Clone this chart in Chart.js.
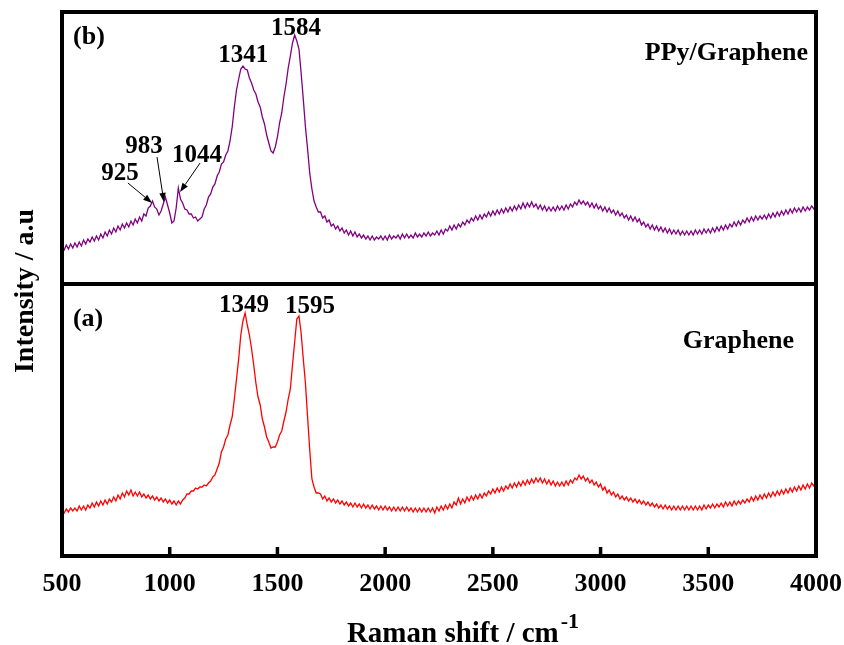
<!DOCTYPE html>
<html><head><meta charset="utf-8">
<script src="https://cdn.jsdelivr.net/npm/chart.js@4.4.1/dist/chart.umd.min.js"></script>
<style>html,body{margin:0;padding:0;background:#fff}#wrap{width:844px;height:645px}</style>
</head><body><div id="wrap"><canvas id="c" width="844" height="645"></canvas></div>
<script>
// Raman shift (cm-1)
const ramanShift = [
 500,510,520,530,540,550,560,570,580,590,
 600,610,620,630,640,650,660,670,680,690,
 700,710,720,730,740,750,760,770,780,790,
 800,810,820,830,840,850,860,870,880,890,
 900,910,920,930,940,950,960,970,980,990,
 1000,1010,1020,1030,1040,1050,1060,1070,1080,1090,
 1100,1110,1120,1130,1140,1150,1160,1170,1180,1190,
 1200,1210,1220,1230,1240,1250,1260,1270,1280,1290,
 1300,1310,1320,1330,1340,1350,1360,1370,1380,1390,
 1400,1410,1420,1430,1440,1450,1460,1470,1480,1490,
 1500,1510,1520,1530,1540,1550,1560,1570,1580,1590,
 1600,1610,1620,1630,1640,1650,1660,1670,1680,1690,
 1700,1710,1720,1730,1740,1750,1760,1770,1780,1790,
 1800,1810,1820,1830,1840,1850,1860,1870,1880,1890,
 1900,1910,1920,1930,1940,1950,1960,1970,1980,1990,
 2000,2010,2020,2030,2040,2050,2060,2070,2080,2090,
 2100,2110,2120,2130,2140,2150,2160,2170,2180,2190,
 2200,2210,2220,2230,2240,2250,2260,2270,2280,2290,
 2300,2310,2320,2330,2340,2350,2360,2370,2380,2390,
 2400,2410,2420,2430,2440,2450,2460,2470,2480,2490,
 2500,2510,2520,2530,2540,2550,2560,2570,2580,2590,
 2600,2610,2620,2630,2640,2650,2660,2670,2680,2690,
 2700,2710,2720,2730,2740,2750,2760,2770,2780,2790,
 2800,2810,2820,2830,2840,2850,2860,2870,2880,2890,
 2900,2910,2920,2930,2940,2950,2960,2970,2980,2990,
 3000,3010,3020,3030,3040,3050,3060,3070,3080,3090,
 3100,3110,3120,3130,3140,3150,3160,3170,3180,3190,
 3200,3210,3220,3230,3240,3250,3260,3270,3280,3290,
 3300,3310,3320,3330,3340,3350,3360,3370,3380,3390,
 3400,3410,3420,3430,3440,3450,3460,3470,3480,3490,
 3500,3510,3520,3530,3540,3550,3560,3570,3580,3590,
 3600,3610,3620,3630,3640,3650,3660,3670,3680,3690,
 3700,3710,3720,3730,3740,3750,3760,3770,3780,3790,
 3800,3810,3820,3830,3840,3850,3860,3870,3880,3890,
 3900,3910,3920,3930,3940,3950,3960,3970,3980,3990,
 4000
];
// (b) PPy/Graphene intensity (a.u.)
const ppyGraphene = [
 37,34,39,35,40,36,41,37,42,38,
 44,40,45,42,47,43,48,44,50,46,
 52,48,54,50,56,52,58,54,60,56,
 61,57,63,59,65,61,67,63,70,68,
 76,78,83,77,75,69,73,80,87,79,
 71,61,63,76,96,85,81,75,74,70,
 70,66,67,63,65,67,75,79,87,90,
 97,100,108,112,120,122,129,133,143,157,
 177,194,205,215,218,215,214,206,201,194,
 190,182,177,167,160,149,141,133,131,137,
 147,161,171,187,200,216,228,241,249,243,
 235,211,185,157,135,111,95,83,77,72,
 72,66,68,62,64,58,60,55,58,53,
 56,51,54,49,53,48,52,47,50,46,
 49,45,48,44,48,44,47,45,48,44,
 48,44,49,45,48,46,49,45,50,46,
 50,46,49,46,51,47,50,47,51,48,
 52,48,51,49,53,49,54,50,55,53,
 58,54,59,55,60,57,62,59,64,61,
 66,63,68,64,69,65,70,67,72,68,
 73,69,74,70,75,71,76,72,77,73,
 78,74,79,75,81,76,81,77,82,77,
 80,75,79,74,78,73,77,73,77,73,
 78,74,78,74,79,75,80,77,82,79,
 84,80,83,79,82,77,81,76,80,75,
 78,73,77,72,76,71,74,69,73,68,
 71,66,69,64,68,63,67,62,65,59,
 62,57,60,55,59,54,58,53,57,52,
 56,51,55,50,54,50,54,49,53,49,
 53,49,53,49,54,50,54,50,55,51,
 55,51,56,52,57,53,58,54,59,55,
 60,57,62,58,63,59,64,61,66,62,
 67,63,68,64,68,65,69,65,70,66,
 71,67,72,68,73,69,74,70,75,71,
 76,72,76,72,77,73,77,74,78,75,
 78
];
// (a) Graphene intensity (a.u.)
const graphene = [
 47,43,47,44,48,45,48,45,50,46,
 50,46,51,48,53,49,54,50,55,51,
 56,52,57,54,59,55,61,57,63,59,
 65,61,66,60,64,60,64,59,62,58,
 61,57,60,56,59,55,58,54,57,53,
 56,52,55,51,55,52,56,58,62,62,
 65,65,68,67,69,69,71,70,73,75,
 79,81,87,93,104,109,117,121,131,139,
 157,177,197,221,235,243,231,221,207,191,
 173,159,151,137,129,119,114,108,109,109,
 114,121,125,135,144,157,167,191,214,237,
 240,223,197,173,139,106,77,69,63,63,
 62,57,60,55,58,54,57,53,56,52,
 55,51,54,50,53,49,53,49,52,48,
 52,48,51,47,51,47,50,46,50,46,
 50,46,49,45,49,45,49,45,49,45,
 49,45,48,44,48,44,48,44,48,44,
 48,44,48,43,49,45,50,46,51,47,
 52,48,54,51,58,52,57,53,59,55,
 60,56,61,57,62,58,63,60,65,62,
 67,63,68,64,69,65,70,67,72,68,
 73,69,74,70,75,71,76,72,77,73,
 78,74,78,73,77,72,76,71,75,70,
 74,70,74,70,75,71,76,73,78,76,
 81,77,80,75,78,73,76,71,74,69,
 72,66,69,63,66,61,64,59,62,57,
 60,56,59,55,58,54,57,53,56,52,
 55,51,54,50,53,49,52,48,51,47,
 51,47,50,46,50,46,50,46,50,46,
 50,46,50,46,50,46,50,46,51,47,
 51,48,52,48,52,49,53,49,54,50,
 54,50,55,51,55,52,56,53,57,54,
 59,55,60,56,61,57,62,58,63,59,
 64,60,65,61,66,62,67,63,68,64,
 69,65,70,66,71,67,72,68,73,70,
 74
];
const xTickValues = [500,1000,1500,2000,2500,3000,3500,4000];
const PANEL = 272; // height of one panel in intensity units

// peak annotations: x in cm-1, y in panel intensity units
const peakLabels = [
 {text:'1341', x:1341, y:222, panel:'b'},
 {text:'1584', x:1586, y:249, panel:'b'},
 {text:'925',  x:769,  y:104, panel:'b'},
 {text:'983',  x:881,  y:131, panel:'b'},
 {text:'1044', x:1127, y:122, panel:'b'},
 {text:'1349', x:1345, y:244, panel:'a'},
 {text:'1595', x:1651, y:243, panel:'a'}
];
const arrows = [
 {x0:806, y0:101, x1:918, y1:81, panel:'b'},
 {x0:941, y0:127, x1:973, y1:82, panel:'b'},
 {x0:1141,y0:121, x1:1048,y1:92, panel:'b'}
];
const panelTags = [
 {text:'(b)', x:625, y:240, panel:'b', align:'center'},
 {text:'(a)', x:621, y:230, panel:'a', align:'center'},
 {text:'PPy/Graphene', x:3963, y:224, panel:'b', align:'right'},
 {text:'Graphene', x:3898, y:208, panel:'a', align:'right'}
];

const SERIF = '"Liberation Serif", "Times New Roman", serif';

const decor = {
  id:'decor',
  afterDraw(chart){
    const ctx = chart.ctx, xs = chart.scales.x, ys = chart.scales.y;
    const a = chart.chartArea;
    const py = (v, panel) => ys.getPixelForValue(panel === 'b' ? v + PANEL : v);
    ctx.save();
    ctx.strokeStyle = '#000';
    ctx.lineWidth = 4;
    ctx.strokeRect(a.left, a.top, a.right - a.left, a.bottom - a.top);
    const mid = ys.getPixelForValue(PANEL);
    ctx.beginPath(); ctx.moveTo(a.left, mid); ctx.lineTo(a.right, mid); ctx.stroke();
    ctx.lineWidth = 3.5;
    xTickValues.forEach(v => {
      const px = xs.getPixelForValue(v);
      ctx.beginPath(); ctx.moveTo(px, a.bottom); ctx.lineTo(px, a.bottom - 9); ctx.stroke();
    });
    ctx.fillStyle = '#000';
    ctx.textBaseline = 'alphabetic';
    ctx.font = 'bold 25px ' + SERIF;
    ctx.textAlign = 'center';
    peakLabels.forEach(l => ctx.fillText(l.text, xs.getPixelForValue(l.x), py(l.y, l.panel)));
    ctx.font = 'bold 26px ' + SERIF;
    panelTags.forEach(l => { ctx.textAlign = l.align; ctx.fillText(l.text, xs.getPixelForValue(l.x), py(l.y, l.panel)); });
    ctx.lineWidth = 1;
    arrows.forEach(r => {
      const x0 = xs.getPixelForValue(r.x0), y0 = py(r.y0, r.panel);
      const x1 = xs.getPixelForValue(r.x1), y1 = py(r.y1, r.panel);
      const ang = Math.atan2(y1 - y0, x1 - x0), L = 9, W = 3.2;
      const bx = x1 - L*Math.cos(ang), by = y1 - L*Math.sin(ang);
      ctx.beginPath(); ctx.moveTo(x0, y0); ctx.lineTo(bx, by); ctx.stroke();
      ctx.beginPath();
      ctx.moveTo(x1, y1);
      ctx.lineTo(bx + W*Math.sin(ang), by - W*Math.cos(ang));
      ctx.lineTo(bx - W*Math.sin(ang), by + W*Math.cos(ang));
      ctx.closePath(); ctx.fill();
    });
    ctx.textAlign = 'left';
    ctx.font = 'bold 29px ' + SERIF;
    const t1 = 'Raman shift / cm';
    const w1 = ctx.measureText(t1).width;
    ctx.font = 'bold 22px ' + SERIF;
    const w2 = ctx.measureText('-1').width;
    const cx = (a.left + a.right) / 2 + 24;
    const sx = cx - (w1 + w2 + 2) / 2;
    ctx.font = 'bold 29px ' + SERIF;
    ctx.fillText(t1, sx, 642);
    ctx.font = 'bold 22px ' + SERIF;
    ctx.fillText('-1', sx + w1 + 2, 628);
    ctx.save();
    ctx.translate(33, (a.top + a.bottom) / 2 + 7);
    ctx.rotate(-Math.PI / 2);
    ctx.textAlign = 'center';
    ctx.font = 'bold 28px ' + SERIF;
    ctx.fillText('Intensity / a.u', 0, 0);
    ctx.restore();
    ctx.restore();
  }
};

new Chart(document.getElementById('c'), {
  type:'line',
  data:{
    datasets:[
      {label:'PPy/Graphene', data: ramanShift.map((x,i)=>({x, y: ppyGraphene[i] + PANEL})),
       borderColor:'#800080', borderWidth:1.3, pointRadius:0, tension:0, fill:false},
      {label:'Graphene', data: ramanShift.map((x,i)=>({x, y: graphene[i]})),
       borderColor:'#ff0000', borderWidth:1.3, pointRadius:0, tension:0, fill:false}
    ]
  },
  options:{
    responsive:false, animation:false, devicePixelRatio:1,
    layout:{padding:{left:62, right:28, top:12, bottom:0}},
    plugins:{legend:{display:false}, tooltip:{enabled:false}},
    scales:{
      x:{type:'linear', min:500, max:4000,
         afterBuildTicks: s => { s.ticks = xTickValues.map(v => ({value:v})); },
         afterFit: s => { s.height = 89; s.paddingLeft = 0; s.paddingRight = 0; },
         grid:{display:false, drawTicks:false}, border:{display:false},
         ticks:{maxRotation:0, autoSkip:false, padding:13, color:'#000',
                callback: v => String(v),
                font:{family:SERIF, size:26, weight:'bold'}}},
      y:{display:false, min:0, max:2*PANEL}
    }
  },
  plugins:[decor]
});
</script></body></html>
